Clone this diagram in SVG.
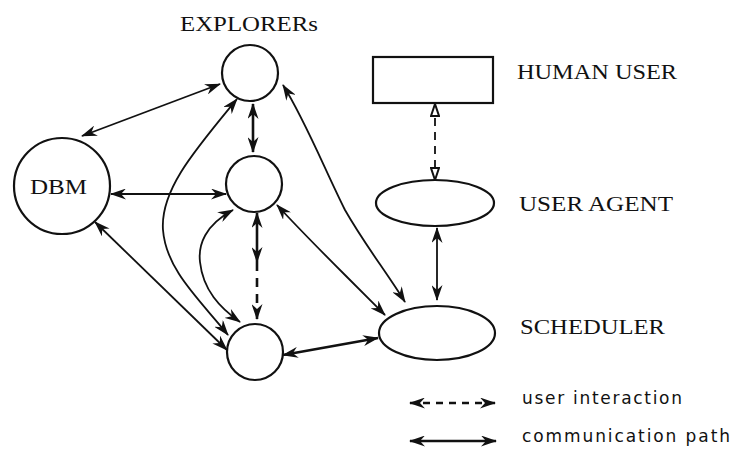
<svg xmlns="http://www.w3.org/2000/svg" width="736" height="462" viewBox="0 0 736 462">
<style>
.node{fill:#fff;stroke:#111;stroke-width:2.2}
.lbl{font-family:"Liberation Serif","Times New Roman",serif;font-size:21px;fill:#111}
.leg{font-family:"DejaVu Sans",sans-serif;font-size:17px;fill:#111}
.c{fill:none;stroke:#111;stroke-width:1.8;marker-start:url(#a);marker-end:url(#a)}
.thick{stroke-width:2.6}
.dash{stroke-dasharray:9 7}
.ho{fill:none;stroke:#111;stroke-width:1.8;stroke-dasharray:8 6;marker-start:url(#h);marker-end:url(#h)}
</style>
<defs>
<marker id="a" viewBox="0 0 16 11" refX="15" refY="5.5" markerWidth="16" markerHeight="11" markerUnits="userSpaceOnUse" orient="auto-start-reverse">
<path d="M0,0 L16,5.5 L0,11 L5,5.5 z" fill="#111"/>
</marker>
<marker id="h" viewBox="0 0 14 10" refX="13" refY="5" markerWidth="14" markerHeight="10" markerUnits="userSpaceOnUse" orient="auto-start-reverse">
<path d="M1,1 L13,5 L1,9 z" fill="#fff" stroke="#111" stroke-width="2"/>
</marker>
</defs>
<rect width="736" height="462" fill="#fff"/>
<g id="connectors">
<path class="c" d="M82,136 L220,84"/>
<path class="c" d="M111,194 L226,194"/>
<path class="c" d="M95,222 L227,350"/>
<path class="c thick" d="M253,104 L253,152"/>
<path class="c thick" d="M257,213 L257,262"/>
<path fill="none" stroke="#111" stroke-width="2.6" stroke-dasharray="9 7" marker-end="url(#a)" d="M257,262 L257,319"/>
<path class="c" d="M237,99 C195,150 160,190 163,230 C166,270 200,300 228,335"/>
<path class="c" d="M233,210 C205,225 198,245 200,262 C203,290 220,308 240,322"/>
<path class="c" d="M283,85 C305,120 325,170 345,210 C365,245 385,270 405,302"/>
<path class="c" d="M277,205 C300,230 325,255 345,275 C360,290 372,302 385,315"/>
<path class="c thick" d="M283,355 L378,338"/>
<path class="c" d="M437,228 L437,300"/>
<path class="ho" d="M435,104 L435,180"/>
</g>
<g id="explorer-top"><circle class="node" cx="250" cy="73" r="28"/></g>
<g id="explorer-mid"><circle class="node" cx="254" cy="184" r="28"/></g>
<g id="explorer-bot"><circle class="node" cx="255" cy="352" r="28"/></g>
<g id="dbm"><circle class="node" cx="62" cy="186" r="48"/><text class="lbl" x="30" y="194" textLength="57" lengthAdjust="spacingAndGlyphs">DBM</text></g>
<g id="human-user"><rect class="node" x="373" y="57" width="120" height="46"/><text class="lbl" x="517" y="79" textLength="160" lengthAdjust="spacingAndGlyphs">HUMAN USER</text></g>
<g id="user-agent"><ellipse class="node" cx="435" cy="203" rx="59" ry="23"/><text class="lbl" x="519" y="211" textLength="154" lengthAdjust="spacingAndGlyphs">USER AGENT</text></g>
<g id="scheduler"><ellipse class="node" cx="437" cy="333" rx="58" ry="27"/><text class="lbl" x="520" y="334" textLength="145" lengthAdjust="spacingAndGlyphs">SCHEDULER</text></g>
<text class="lbl" x="180" y="31" textLength="138" lengthAdjust="spacingAndGlyphs">EXPLORERs</text>
<g id="legend">
<path class="c thick" d="M410,403 L495,403" style="stroke-dasharray:7 6"/>
<text class="leg" x="522" y="404" textLength="160" lengthAdjust="spacing">user interaction</text>
<path class="c thick" d="M410,441 L496,441"/>
<text class="leg" x="522" y="442" textLength="208" lengthAdjust="spacing">communication path</text>
</g>
</svg>
